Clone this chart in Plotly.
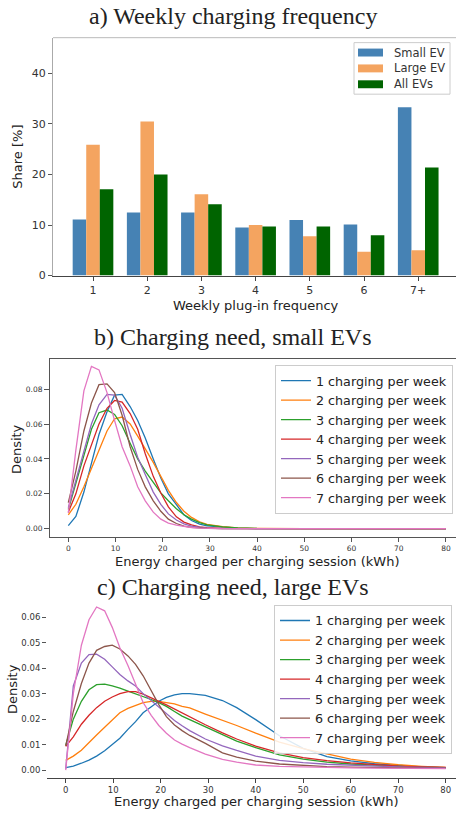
import plotly.graph_objects as go

W, H = 456, 816

# ---------------- Panel a data ----------------
categories = ["1", "2", "3", "4", "5", "6", "7+"]
small_ev = [11.1, 12.5, 12.5, 9.5, 11.0, 10.1, 33.3]
large_ev = [25.9, 30.5, 16.1, 10.0, 7.8, 4.7, 5.0]
all_evs = [17.1, 20.0, 14.1, 9.7, 9.7, 8.0, 21.4]
bar_names = ["Small EV", "Large EV", "All EVs"]
bar_colors = ["#4682b4", "#f4a460", "#006400"]
y_ticks_a = [0, 10, 20, 30, 40]

# ---------------- Panel b data (density x 1000) ----------------
x_b = [0, 1.6, 3.3, 4.9, 6.5, 8.2, 9.8, 11.4, 13.1, 14.7, 16.3, 18.0, 19.6,
       21.2, 22.9, 24.5, 26.1, 27.8, 29.4, 32.7, 35.9, 40, 50, 60, 70, 80]
b_w1 = [1.8, 7, 21, 37, 54, 67, 76.5, 77, 70, 62, 52, 40, 29, 20, 13.5, 8, 4.7, 2.7, 1.7, 0.8, 0.3, 0.1, 0, 0, 0, 0]
b_w2 = [8, 14, 24, 34, 45, 56, 63, 64, 60, 53, 46, 38, 30, 22, 15, 10, 6.5, 4, 2.5, 1.2, 0.5, 0.2, 0, 0, 0, 0]
b_w3 = [11, 26, 42, 57, 66.5, 68, 65.5, 59, 49, 40, 33, 26.5, 20.5, 16, 11.5, 8, 5.5, 3.5, 2.2, 1.1, 0.5, 0.2, 0, 0, 0, 0]
b_w4 = [9.5, 20, 36, 48, 60, 69, 73.5, 72.5, 66, 57, 43, 30, 20.5, 12.5, 6.8, 3.8, 2.2, 1.1, 0.6, 0.2, 0, 0, 0, 0, 0, 0]
b_w5 = [12, 28, 45, 60, 71, 77, 76.5, 69, 54, 41, 31, 21, 14, 8.5, 5, 2.8, 1.5, 0.8, 0.4, 0.1, 0, 0, 0, 0, 0, 0]
b_w6 = [15, 33, 56, 72, 82.5, 83, 78, 65, 47, 34, 24, 16, 10, 5.5, 3, 1.5, 0.8, 0.4, 0.2, 0.1, 0, 0, 0, 0, 0, 0]
b_w7 = [9, 45, 79, 93, 91, 78, 62, 47, 36, 24, 16, 9.5, 5.5, 3.2, 2, 1.2, 0.7, 0.4, 0.2, 0.1, 0, 0, 0, 0, 0, 0]

# ---------------- Panel c data (density x 1000) ----------------
x_c = [0, 1.6, 3.3, 4.9, 6.5, 8.2, 9.8, 11.4, 13.1, 14.7, 16.3, 18.0, 19.6,
       21.2, 22.9, 24.5, 26.1, 29.4, 33, 36, 40, 45, 50, 55, 60, 65, 70, 75, 80]
c_w1 = [1.0, 1.6, 2.7, 3.9, 5.5, 7.6, 10.0, 12.5, 16.0, 19.0, 22.5, 25.0, 27.0, 28.5, 29.5, 30.0, 30.0, 29.3, 27.3, 24.5, 19.8, 13.5, 8.5, 5.3, 3.6, 2.5, 1.8, 1.3, 0.9]
c_w2 = [3.8, 5.5, 7.8, 11.0, 13.8, 16.8, 19.8, 22.5, 24.2, 25.5, 26.5, 27.0, 27.0, 26.5, 26.0, 25.0, 24.4, 22.0, 19.7, 17.5, 14.5, 11.0, 8.4, 6.2, 4.3, 3.0, 2.1, 1.5, 1.1]
c_w3 = [9.7, 20.0, 27.0, 31.5, 33.5, 33.7, 33.0, 32.2, 31.0, 30.0, 28.8, 27.7, 26.5, 25.0, 23.0, 21.2, 19.8, 17.0, 13.8, 11.4, 8.8, 6.0, 4.3, 3.1, 2.4, 1.9, 1.5, 1.2, 1.0]
c_w4 = [9.3, 13.0, 18.0, 21.5, 24.5, 27.0, 28.7, 30.0, 30.8, 30.8, 29.8, 28.5, 27.0, 25.6, 24.0, 22.2, 21.0, 17.8, 14.6, 12.2, 9.4, 6.8, 4.9, 3.7, 2.8, 2.1, 1.6, 1.3, 1.1]
c_w5 = [0.5, 33.0, 42.0, 45.3, 45.5, 43.5, 40.5, 37.5, 35.0, 33.0, 30.0, 27.3, 24.8, 22.2, 19.5, 17.4, 15.5, 12.2, 9.5, 7.7, 5.5, 3.8, 2.9, 2.3, 1.9, 1.6, 1.3, 1.1, 1.0]
c_w6 = [9.5, 23, 34, 42, 47, 48.5, 49, 47.5, 44.8, 41.5, 37, 31, 25.7, 21, 17.7, 15.5, 13.6, 10.5, 6.8, 5.1, 3.5, 2.4, 1.8, 1.4, 1.2, 1.0, 0.9, 0.8, 0.8]
c_w7 = [0.0, 30, 49, 59, 64, 62.5, 56, 48, 41, 33.5, 26.5, 21.5, 17.5, 14.5, 11.8, 10.2, 8.8, 6.3, 4.2, 3.1, 2.0, 1.5, 1.2, 1.0, 0.9, 0.8, 0.7, 0.6, 0.6]

series_names = ["1 charging per week", "2 charging per week", "3 charging per week",
                "4 charging per week", "5 charging per week", "6 charging per week",
                "7 charging per week"]
line_colors = ["#1f77b4", "#ff7f0e", "#2ca02c", "#d62728", "#9467bd", "#8c564b", "#e377c2"]
x_ticks_energy = [0, 10, 20, 30, 40, 50, 60, 70, 80]
y_ticks_b = [0.00, 0.02, 0.04, 0.06, 0.08]
y_ticks_c = [0.00, 0.01, 0.02, 0.03, 0.04, 0.05, 0.06]

FONT = "DejaVu Sans"
SERIF = "Liberation Serif"

fig = go.Figure()

for name, vals, col in zip(bar_names, [small_ev, large_ev, all_evs], bar_colors):
    fig.add_trace(go.Bar(x=categories, y=vals, name=name, marker_color=col,
                         marker_line_width=0, xaxis="x", yaxis="y", showlegend=False))

for name, vals, col in zip(series_names, [b_w1, b_w2, b_w3, b_w4, b_w5, b_w6, b_w7], line_colors):
    fig.add_trace(go.Scatter(x=x_b, y=[v / 1000 for v in vals], mode="lines", name=name,
                             line=dict(color=col, width=1.3), xaxis="x2", yaxis="y2",
                             legend="legend2"))

for name, vals, col in zip(series_names, [c_w1, c_w2, c_w3, c_w4, c_w5, c_w6, c_w7], line_colors):
    fig.add_trace(go.Scatter(x=x_c, y=[v / 1000 for v in vals], mode="lines", name=name,
                             line=dict(color=col, width=1.3), xaxis="x3", yaxis="y3",
                             legend="legend3"))


def py(px):
    return 1 - px / H


def pxx(px):
    return px / W


common = dict(showgrid=False, zeroline=False, ticks="outside")

shapes = [dict(type="line", xref="paper", yref="paper", x0=pxx(53), x1=1,
               y0=py(38), y1=py(38), line=dict(color="#bbb", width=1))]
ann = []

# compact legend box for panel a (matplotlib style: wide colour patches)
shapes.append(dict(type="rect", xref="paper", yref="paper", x0=pxx(354), x1=pxx(450),
                   y0=py(95), y1=py(43), line=dict(color="#ccc", width=1),
                   fillcolor="rgba(255,255,255,0.85)", layer="above"))
for i, (name, col) in enumerate(zip(bar_names, bar_colors)):
    yc = 53 + 16 * i
    shapes.append(dict(type="rect", xref="paper", yref="paper", x0=pxx(358), x1=pxx(383),
                       y0=py(yc + 4), y1=py(yc - 4), line=dict(width=0), fillcolor=col,
                       layer="above"))
    ann.append(dict(text=name, x=pxx(392), y=py(yc), xref="paper", yref="paper",
                    xanchor="left", yanchor="middle", showarrow=False,
                    font=dict(family=FONT, size=11.5, color="#333")))

fig.update_layout(
    width=W, height=H, margin=dict(l=0, r=0, t=0, b=0),
    paper_bgcolor="white", plot_bgcolor="white",
    font=dict(family=FONT, color="#333"),
    barmode="group", bargap=0.25, bargroupgap=0,
    xaxis=dict(domain=[pxx(53), 1], anchor="y", type="category", range=[-0.738, 6.697],
               showline=True, linecolor="#444", ticklen=4, tickcolor="#444",
               tickfont=dict(size=11, color="#333"), **common),
    yaxis=dict(domain=[py(278), py(38)], anchor="x", range=[0, 47.06], tickvals=y_ticks_a,
               showline=True, linecolor="#aaa", ticklen=4, tickcolor="#555",
               tickfont=dict(size=11, color="#333"), **common),
    xaxis2=dict(domain=[pxx(50), 1], anchor="y2", range=[-3.88, 82.14], tickvals=x_ticks_energy,
                showline=True, mirror=True, linecolor="#555", ticklen=4, tickcolor="#555",
                tickfont=dict(size=7.5, color="#333"), **common),
    yaxis2=dict(domain=[py(542), py(362)], anchor="x2", range=[-0.00494, 0.0973],
                tickvals=y_ticks_b, ticktext=["%.2f" % v for v in y_ticks_b],
                showline=True, linecolor="#555", ticklen=5, tickcolor="#555",
                tickfont=dict(size=7.5, color="#333"), **common),
    xaxis3=dict(domain=[pxx(47), 1], anchor="y3", range=[-3.94, 82.17], tickvals=x_ticks_energy,
                showline=True, linecolor="#444", ticklen=4, tickcolor="#444",
                tickfont=dict(size=8.5, color="#333"), **common),
    yaxis3=dict(domain=[py(785), py(604)], anchor="x3", range=[-0.0032, 0.0672],
                tickvals=y_ticks_c, ticktext=["%.2f" % v for v in y_ticks_c],
                showline=False, ticklen=4, tickcolor="#555",
                tickfont=dict(size=8.5, color="#333"), **common),
    legend2=dict(x=pxx(275), y=py(368), xanchor="left", yanchor="top",
                 bordercolor="#ccc", borderwidth=1, bgcolor="rgba(255,255,255,0.85)",
                 font=dict(size=12.7, color="#222")),
    legend3=dict(x=pxx(274), y=py(610), xanchor="left", yanchor="top",
                 bordercolor="#ccc", borderwidth=1, bgcolor="rgba(255,255,255,0.85)",
                 font=dict(size=12.7, color="#222")),
)

for text, x, y in [("a) Weekly charging frequency", 233, 16),
                   ("b) Charging need, small EVs", 233, 340),
                   ("c) Charging need, large EVs", 233, 592)]:
    ann.append(dict(text=text, x=pxx(x), y=py(y), xref="paper", yref="paper",
                    xanchor="center", yanchor="middle", showarrow=False,
                    font=dict(family=SERIF, size=24, color="#222")))
for text, x, y, size in [("Weekly plug-in frequency", 256, 308, 13),
                         ("Energy charged per charging session (kWh)", 257, 566, 13),
                         ("Energy charged per charging session (kWh)", 256, 808, 13)]:
    ann.append(dict(text=text, x=pxx(x), y=py(y), xref="paper", yref="paper",
                    xanchor="center", yanchor="middle", showarrow=False,
                    font=dict(family=FONT, size=size, color="#222")))
for text, x, y, size in [("Share [%]", 18, 158, 13),
                         ("Density", 16, 453, 13),
                         ("Density", 12, 695, 13)]:
    ann.append(dict(text=text, x=pxx(x), y=py(y), xref="paper", yref="paper",
                    xanchor="center", yanchor="middle", showarrow=False, textangle=-90,
                    font=dict(family=FONT, size=size, color="#222")))
fig.update_layout(annotations=ann, shapes=shapes)

# remove the default 8px page margin so the figure sits at the window's top-left corner
fig.write_html("out.html", config={"displayModeBar": False},
               post_script="document.body.style.margin='0';")
